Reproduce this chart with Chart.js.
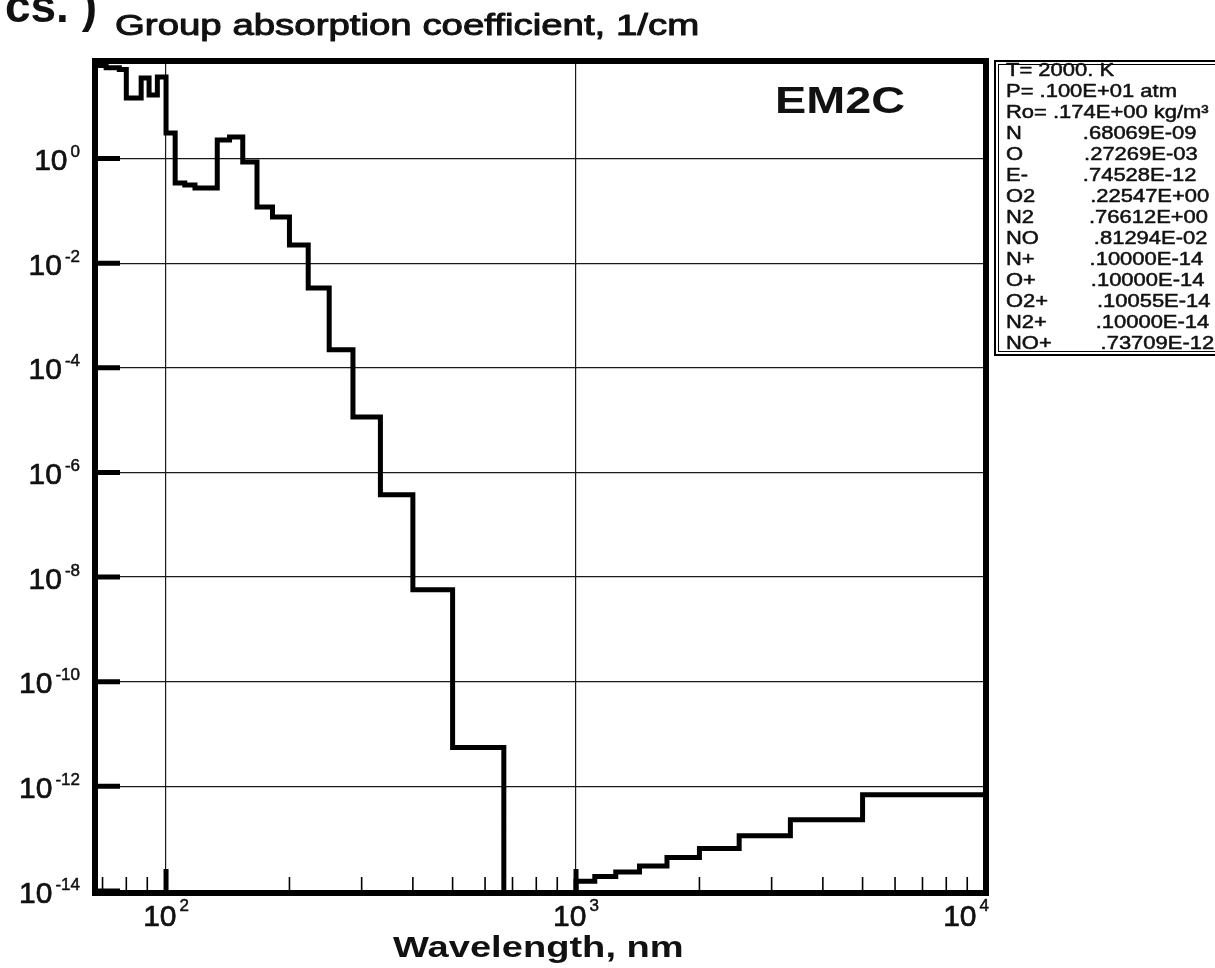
<!DOCTYPE html>
<html>
<head>
<meta charset="utf-8">
<title>Group absorption coefficient</title>
<script src="https://cdn.jsdelivr.net/npm/chart.js@4"></script>
<style>
body{margin:0;background:#fff}
canvas{display:block}
</style>
</head>
<body>
<canvas id="chart" width="1215" height="968"></canvas>
<script>
"use strict";

// group edges, nm (bins of constant wavenumber)
const edgesNm = [66.67, 68.97, 71.43, 74.07, 76.92, 80, 83.33, 86.96, 90.91, 95.24,
	100, 105.26, 111.11, 117.65, 125, 133.33, 142.86, 153.85, 166.67, 181.82,
	200, 222.22, 250, 285.71, 333.33, 400, 500, 666.67, 1000,
	1111.1, 1250, 1428.6, 1666.7, 2000, 2500, 3333.3, 5000, 10000];
// absorption per group, 1/cm (1e-16 = nothing, below the plot floor)
const absorption = [60, 60, 54, 54, 50, 14.3, 14.3, 34.5, 16.3, 36,
	3.07, 0.34, 0.31, 0.273, 0.273, 2.26, 2.57, 0.857, 0.118, 0.076,
	0.0223, 0.00336, 2.2e-4, 1.15e-5, 3.73e-7, 5.7e-9, 5.5e-12, 1e-16,
	1.54e-14, 1.9e-14, 2.3e-14, 3.0e-14, 4.35e-14, 6.5e-14, 1.14e-13, 2.3e-13, 6.9e-13];

const xMajor = [100, 1000, 10000];
const xMinor = [70, 80, 90, 200, 300, 400, 500, 600, 700, 800, 900,
	2000, 3000, 4000, 5000, 6000, 7000, 8000, 9000];
const xExp = ["2", "3", "4"];
const yMajor = [1e0, 1e-2, 1e-4, 1e-6, 1e-8, 1e-10, 1e-12, 1e-14];
const yExp = ["0", "-2", "-4", "-6", "-8", "-10", "-12", "-14"];

const infoHead = ["T= 2000. K", "P= .100E+01 atm", "Ro= .174E+00 kg/m\u00b3"];
const species = ["N", "O", "E-", "O2", "N2", "NO", "N+", "O+", "O2+", "N2+", "NO+"];
const fractions = [".68069E-09", ".27269E-03", ".74528E-12", ".22547E+00", ".76612E+00",
	".81294E-02", ".10000E-14", ".10000E-14", ".10055E-14", ".10000E-14", ".73709E-12"];

const FONT = "'Liberation Sans', Arial, sans-serif";

// points for a step line: each group starts at its left edge
let points = absorption.map((v, i) => ({ x: edgesNm[i], y: v }));
points.push({ x: edgesNm[edgesNm.length - 1], y: absorption[absorption.length - 1] });

// sx = horizontal stretch of the scanned picture, sw = extra stroke to fatten glyphs
function txt(ctx, s, x, y, font, align, sx, sw) {
	ctx.save();
	ctx.font = font;
	ctx.textAlign = align;
	ctx.textBaseline = "alphabetic";
	ctx.translate(x, y);
	ctx.scale(sx, 1);
	ctx.fillText(s, 0, 0);
	if (sw) {
		ctx.lineWidth = sw;
		ctx.strokeStyle = ctx.fillStyle;
		ctx.lineJoin = "round";
		ctx.strokeText(s, 0, 0);
	}
	ctx.restore();
}

const decor = {
	id: "decor",
	afterDraw(chart) {
		const ctx = chart.ctx;
		const a = chart.chartArea;
		const x = chart.scales.x;
		const y = chart.scales.y;
		ctx.save();
		ctx.strokeStyle = "#000";
		ctx.fillStyle = "#111";

		// ticks
		ctx.lineWidth = 5;
		ctx.beginPath();
		for (const v of yMajor) {
			const py = y.getPixelForValue(v);
			ctx.moveTo(a.left, py);
			ctx.lineTo(a.left + 25, py);
		}
		for (const v of xMajor) {
			const px = x.getPixelForValue(v);
			ctx.moveTo(px, a.bottom);
			ctx.lineTo(px, a.bottom - 22);
		}
		ctx.stroke();
		ctx.lineWidth = 1.6;
		ctx.beginPath();
		for (const v of xMinor) {
			const px = x.getPixelForValue(v);
			ctx.moveTo(px, a.bottom);
			ctx.lineTo(px, a.bottom - 14);
		}
		ctx.stroke();

		// frame
		ctx.lineWidth = 6;
		ctx.strokeRect(a.left, a.top, a.right - a.left, a.bottom - a.top + 2);

		// y labels
		for (let i = 0; i < yMajor.length; i++) {
			const py = y.getPixelForValue(yMajor[i]);
			ctx.font = "17px " + FONT;
			const w = ctx.measureText(yExp[i]).width;
			txt(ctx, yExp[i], 80, py - 1.5, "17px " + FONT, "right", 1, 0.5);
			txt(ctx, "10", 80 - w - 3, py + 11.5, "30px " + FONT, "right", 1, 0.7);
		}
		// x labels
		for (let i = 0; i < xMajor.length; i++) {
			const px = x.getPixelForValue(xMajor[i]);
			ctx.font = "30px " + FONT;
			const w10 = ctx.measureText("10").width;
			ctx.font = "17px " + FONT;
			const we = ctx.measureText(xExp[i]).width;
			let left = px - (w10 + 3 + we) / 2;
			if (left + w10 + 3 + we > a.right + 3) left = a.right + 3 - (w10 + 3 + we);
			txt(ctx, "10", left, 926, "30px " + FONT, "left", 1, 0.7);
			txt(ctx, xExp[i], left + w10 + 3, 911, "17px " + FONT, "left", 1, 0.5);
		}

		// titles
		txt(ctx, "cs. )", 97, 22, "bold 46px " + FONT, "right", 1, 0);
		txt(ctx, "Group absorption coefficient, 1/cm", 115, 35, "30px " + FONT, "left", 1.28, 1);
		txt(ctx, "Wavelength, nm", 393, 957, "bold 30px " + FONT, "left", 1.27, 0);
		txt(ctx, "EM2C", 775, 113, "bold 36px " + FONT, "left", 1.3, 0);

		// conditions box
		ctx.lineWidth = 2;
		ctx.strokeRect(995, 61, 240, 294);
		ctx.lineWidth = 1;
		ctx.strokeRect(998.5, 64.5, 240, 287);
		const lines = infoHead.concat(species.map((s, i) => s.padEnd(11) + fractions[i]));
		for (let i = 0; i < lines.length; i++) {
			txt(ctx, lines[i], 1006, 76 + 21 * i, "18px " + FONT, "left", 1.22, 0.5);
		}
		ctx.restore();
	}
};

const chart = new Chart(document.getElementById("chart"), {
	type: "line",
	data: {
		datasets: [{
			data: points,
			stepped: "before",
			borderColor: "#000",
			borderWidth: 5,
			borderJoinStyle: "miter",
			borderCapStyle: "butt",
			pointRadius: 0,
			fill: false
		}]
	},
	options: {
		responsive: false,
		animation: false,
		events: [],
		layout: { padding: { left: 95, top: 61, right: 229, bottom: 77 } },
		plugins: { legend: { display: false }, tooltip: { enabled: false } },
		scales: {
			x: {
				type: "logarithmic",
				bounds: "data",
				min: 67.1,
				max: 10000,
				ticks: { display: false },
				border: { display: false },
				grid: { color: "#1a1a1a", lineWidth: 1.2, drawTicks: false },
				afterBuildTicks: s => { s.ticks = [100, 1000].map(v => ({ value: v })); },
				afterFit: s => { s.height = 0; }
			},
			y: {
				type: "logarithmic",
				bounds: "data",
				min: 1e-14,
				max: 73,
				ticks: { display: false },
				border: { display: false },
				grid: { color: "#1a1a1a", lineWidth: 1.2, drawTicks: false },
				afterBuildTicks: s => { s.ticks = yMajor.slice(0, -1).map(v => ({ value: v })); },
				afterFit: s => { s.width = 0; }
			}
		}
	},
	plugins: [decor]
});
</script>
</body>
</html>
